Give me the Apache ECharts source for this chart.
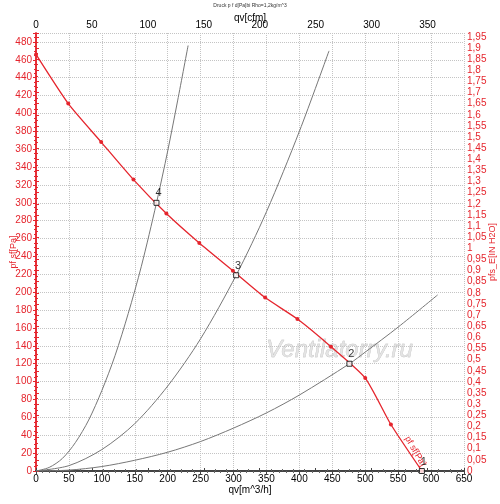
<!DOCTYPE html>
<html>
<head>
<meta charset="utf-8">
<script src="https://cdn.jsdelivr.net/npm/echarts@6/dist/echarts.min.js"></script>
<style>
  html, body { margin: 0; padding: 0; background: #fff; }
  #chart { width: 500px; height: 504px; }
</style>
</head>
<body>
<div id="chart"></div>
<script>
// Kennlinie des Ventilators (qv in m^3/h, pf in Pa)
var fanCurve = [
  [0, 466], [49, 411], [99, 368], [148, 326], [198, 288], [248, 255],
  [299, 224], [348, 194], [397, 170], [448, 139], [500, 104], [539, 52], [586, 0]
];
// Anlagenkennlinien (grau)
var system4 = [[0, 0], [20, 4], [40, 14], [60, 32], [80, 57], [100, 90], [120, 129],
  [140, 176], [160, 229], [183, 300], [200, 358], [215, 414], [231, 476]];
var system3 = [[0, 0], [50, 6], [100, 24], [150, 53], [200, 95], [250, 148],
  [304, 219], [350, 290], [400, 380], [445, 470]];
var system2 = [[0, 0], [50, 1], [100, 5], [150, 12], [200, 21], [250, 33], [300, 48],
  [350, 65], [400, 85], [476, 120], [500, 133], [550, 161], [610, 197]];
// Betriebspunkte
var opPoints = [[586, 0, '1'], [476, 120, '2'], [304, 219, '3'], [183, 300, '4']];

var RED = '#e5252d';
var FONT = 'Liberation Sans, Arial, sans-serif';
var M3H_PER_CFM = 1.699;
var PA_PER_INH2O = 249.09;
var qMax = 650, pMax = 490;

function comma(v) {
  return (Math.round(v * 100) / 100).toString().replace('.', ',');
}

var chart = echarts.init(document.getElementById('chart'));
chart.setOption({
  animation: false,
  textStyle: { fontFamily: FONT },
  title: {
    text: 'Druck p f d[Pa]bi Rho=1,2kg/m^3',
    left: 'center', top: 3, padding: 0,
    textStyle: { fontSize: 5, fontWeight: 'normal', color: '#333' }
  },
  grid: { left: 36, right: 36, top: 33, bottom: 33, containLabel: false, outerBoundsMode: 'none' },
  graphic: [{
    type: 'text', left: 266, top: 338, silent: true,
    style: {
      text: 'Ventilatorry.ru', fontSize: 24, fontStyle: 'italic', fontFamily: FONT,
      fill: 'rgba(220,220,220,0.75)', stroke: '#b0b0b0', lineWidth: 0.4
    }
  }],
  xAxis: [{
    type: 'value', position: 'bottom', min: 0, max: qMax, interval: 50,
    name: 'qv[m^3/h]', nameLocation: 'middle', nameGap: 14, nameMoveOverlap: false,
    nameTextStyle: { fontSize: 10, color: '#000' },
    axisLine: { lineStyle: { color: '#444', width: 2 } },
    axisTick: { length: 3, lineStyle: { color: '#444' } },
    minorTick: { show: true, splitNumber: 5, length: 2, lineStyle: { color: '#666' } },
    axisLabel: { fontSize: 10, color: '#000', margin: 3 },
    splitLine: { show: true, lineStyle: { color: '#c4c4c4', type: 'dotted' } }
  }, {
    type: 'value', position: 'top', min: 0, max: qMax / M3H_PER_CFM, interval: 50,
    name: 'qv[cfm]', nameLocation: 'middle', nameGap: 10, nameMoveOverlap: false,
    nameTextStyle: { fontSize: 10, color: '#000' },
    axisLine: { lineStyle: { color: '#444', width: 2 } },
    axisTick: { length: 3, lineStyle: { color: '#444' } },
    minorTick: { show: true, splitNumber: 5, length: 2, lineStyle: { color: '#666' } },
    axisLabel: { fontSize: 10, color: '#000', margin: 3, showMaxLabel: false },
    splitLine: { show: false }
  }],
  yAxis: [{
    type: 'value', position: 'left', min: 0, max: pMax, interval: 20,
    name: 'pf sf[Pa]', nameLocation: 'middle', nameGap: 18, nameRotate: 90,
    nameMoveOverlap: false,
    nameTextStyle: { fontSize: 9, color: RED },
    axisLine: { show: true, lineStyle: { color: RED, width: 1.5 } },
    axisTick: { show: true, length: 3, lineStyle: { color: RED } },
    minorTick: { show: true, splitNumber: 4, length: 2, lineStyle: { color: RED } },
    axisLabel: { fontSize: 10, color: RED, margin: 4, showMaxLabel: false },
    splitLine: { show: true, lineStyle: { color: '#c4c4c4', type: 'dotted' } }
  }, {
    type: 'value', position: 'right', min: 0, max: pMax / PA_PER_INH2O, interval: 0.05,
    name: 'pfs_E[IN H2O]', nameLocation: 'middle', nameGap: 24, nameRotate: 90,
    nameMoveOverlap: false,
    nameTextStyle: { fontSize: 9, color: RED },
    axisLine: { show: true, lineStyle: { color: RED, width: 1.5 } },
    axisTick: { show: true, length: 3, lineStyle: { color: RED } },
    minorTick: { show: true, splitNumber: 2, length: 2, lineStyle: { color: RED } },
    axisLabel: { fontSize: 10, color: RED, margin: 3, showMaxLabel: false, formatter: comma },
    splitLine: { show: false }
  }],
  series: [{
    type: 'line', name: 'system4', data: system4, smooth: 0.3,
    showSymbol: false, lineStyle: { color: '#777', width: 1 }, z: 2
  }, {
    type: 'line', name: 'system3', data: system3, smooth: 0.3,
    showSymbol: false, lineStyle: { color: '#777', width: 1 }, z: 2
  }, {
    type: 'line', name: 'system2', data: system2, smooth: 0.3,
    showSymbol: false, lineStyle: { color: '#777', width: 1 }, z: 2
  }, {
    type: 'line', name: 'pf sf[Pa]', data: fanCurve, smooth: 0.2,
    symbol: 'circle', symbolSize: 4, itemStyle: { color: RED },
    lineStyle: { color: RED, width: 1.3 }, z: 3,
    markPoint: {
      symbol: 'circle', symbolSize: 1,
      itemStyle: { color: 'rgba(0,0,0,0)' },
      data: [{ coord: [576, 22] }],
      label: {
        show: true, position: 'inside', formatter: 'pf sf[Pa]', rotate: -60,
        fontSize: 9, color: RED
      }
    }
  }, {
    type: 'scatter', name: 'Betriebspunkte', data: opPoints,
    symbol: 'rect', symbolSize: 5,
    itemStyle: { color: '#fff', borderColor: '#000', borderWidth: 1 },
    label: {
      show: true, position: 'top', distance: 1, offset: [2, 0],
      formatter: function (p) { return p.value[2]; },
      fontSize: 11, color: '#000'
    },
    z: 5
  }]
});
</script>
</body>
</html>
